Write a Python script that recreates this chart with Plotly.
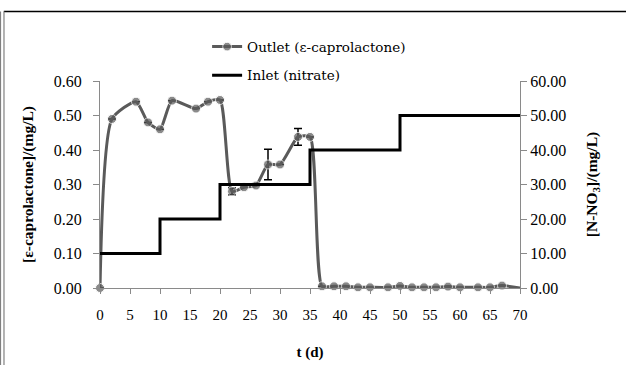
import plotly.graph_objects as go

# Outlet (ε-caprolactone), mg/L
days = [0, 2, 6, 8, 10, 12, 16, 18, 20, 22, 24, 26, 28, 30, 33, 35, 37, 39, 41, 43,
        45, 48, 50, 52, 54, 56, 58, 60, 63, 65, 67, 70]
outlet = [0.0, 0.49, 0.54, 0.48, 0.46, 0.543, 0.52, 0.54, 0.545, 0.28, 0.292, 0.297,
          0.358, 0.358, 0.438, 0.438, 0.005, 0.005, 0.005, 0.002, 0.002, 0.002, 0.006,
          0.002, 0.002, 0.002, 0.004, 0.002, 0.002, 0.002, 0.007, 0.0]
outlet_err = [0, 0, 0, 0, 0, 0, 0, 0, 0, 0.01, 0, 0, 0.044, 0, 0.024, 0, 0, 0, 0, 0,
              0, 0, 0, 0, 0, 0, 0, 0, 0, 0, 0, 0]
show_marker = [d < 70 for d in days]

# Inlet (nitrate), mg/L N-NO3 (step profile)
inlet_days = [0, 10, 10, 20, 20, 35, 35, 50, 50, 70]
inlet_vals = [10, 10, 20, 20, 30, 30, 40, 40, 50, 50]

left_ticks = [0.0, 0.1, 0.2, 0.3, 0.4, 0.5, 0.6]
right_ticks = [0, 10, 20, 30, 40, 50, 60]
x_ticks = list(range(0, 71, 5))

grey = "#5a5a5a"
axis_grey = "#8a8a8a"
serif = "Liberation Serif"

fig = go.Figure()
fig.add_trace(go.Scatter(
    x=inlet_days, y=inlet_vals, mode="lines", name="Inlet (nitrate)",
    line=dict(color="black", width=3), yaxis="y2",
    legendgroup="inlet", legendrank=2, cliponaxis=False,
))
fig.add_trace(go.Scatter(
    x=days, y=outlet, mode="lines+markers", name="Outlet (ε-caprolactone)",
    line=dict(color=grey, width=3, shape="spline", smoothing=0.6),
    marker=dict(color=grey, size=[9 if s else 0 for s in show_marker]),
    error_y=dict(type="data", array=outlet_err, color="black", thickness=1.5, width=4),
    legendgroup="outlet", legendrank=1, cliponaxis=False,
))

fig.update_layout(
    width=626, height=365,
    margin=dict(l=100, r=106, t=81, b=77, autoexpand=False),
    paper_bgcolor="white", plot_bgcolor="white",
    font=dict(family=serif, size=14, color="black"),
    showlegend=True,
    xaxis=dict(
        range=[0, 70], tickvals=x_ticks, ticktext=[str(t) for t in x_ticks],
        showgrid=False, zeroline=False, showline=True, linecolor=axis_grey, linewidth=1,
        ticks="outside", ticklen=5, tickcolor=axis_grey, automargin=False,
        ticklabelstandoff=8,
        tickfont=dict(family=serif, size=15),
        title=dict(text="<b>t (d)</b>", font=dict(family=serif, size=15), standoff=24),
    ),
    yaxis=dict(
        range=[0, 0.6], tickvals=left_ticks, ticktext=[f"{v:.2f}" for v in left_ticks],
        showgrid=False, zeroline=False, showline=True, linecolor=axis_grey, linewidth=1,
        ticks="outside", ticklen=6, tickcolor=axis_grey, automargin=False,
        ticklabelstandoff=8,
        tickfont=dict(family=serif, size=16),
        title=dict(text="<b>[ε-caprolactone]/(mg/L)</b>", font=dict(family=serif, size=15.5), standoff=16),
    ),
    yaxis2=dict(
        range=[0, 60], tickvals=right_ticks, ticktext=[f"{v:.2f}" for v in right_ticks],
        overlaying="y", side="right",
        showgrid=False, zeroline=False, showline=True, linecolor=axis_grey, linewidth=1,
        ticks="outside", ticklen=6, tickcolor=axis_grey, automargin=False,
        tickfont=dict(family=serif, size=16),
        title=dict(text="<b>[N-NO<sub>3</sub>]/(mg/L)</b>", font=dict(family=serif, size=15.5), standoff=20),
    ),
    legend=dict(x=0.255, y=1.24, xanchor="left", yanchor="top", bgcolor="rgba(0,0,0,0)",
                font=dict(family="DejaVu Serif", size=13.5), itemwidth=30,
                traceorder="grouped", tracegroupgap=8),
    shapes=[
        dict(type="line", xref="paper", yref="paper", x0=-0.229, x1=1.26, y0=1.336, y1=1.336,
             line=dict(color="black", width=1.5)),
        dict(type="line", xref="paper", yref="paper", x0=-0.2369, x1=-0.2369, y0=1.336, y1=-0.38,
             line=dict(color="#808080", width=1.2)),
        dict(type="line", xref="paper", yref="paper", x0=-0.2286, x1=-0.2286, y0=1.336, y1=-0.38,
             line=dict(color="#808080", width=1.2)),
    ],
)

fig.write_html("out.html", config={"displayModeBar": False},
               post_script="document.body.style.margin='0px';document.body.style.padding='0px';")
